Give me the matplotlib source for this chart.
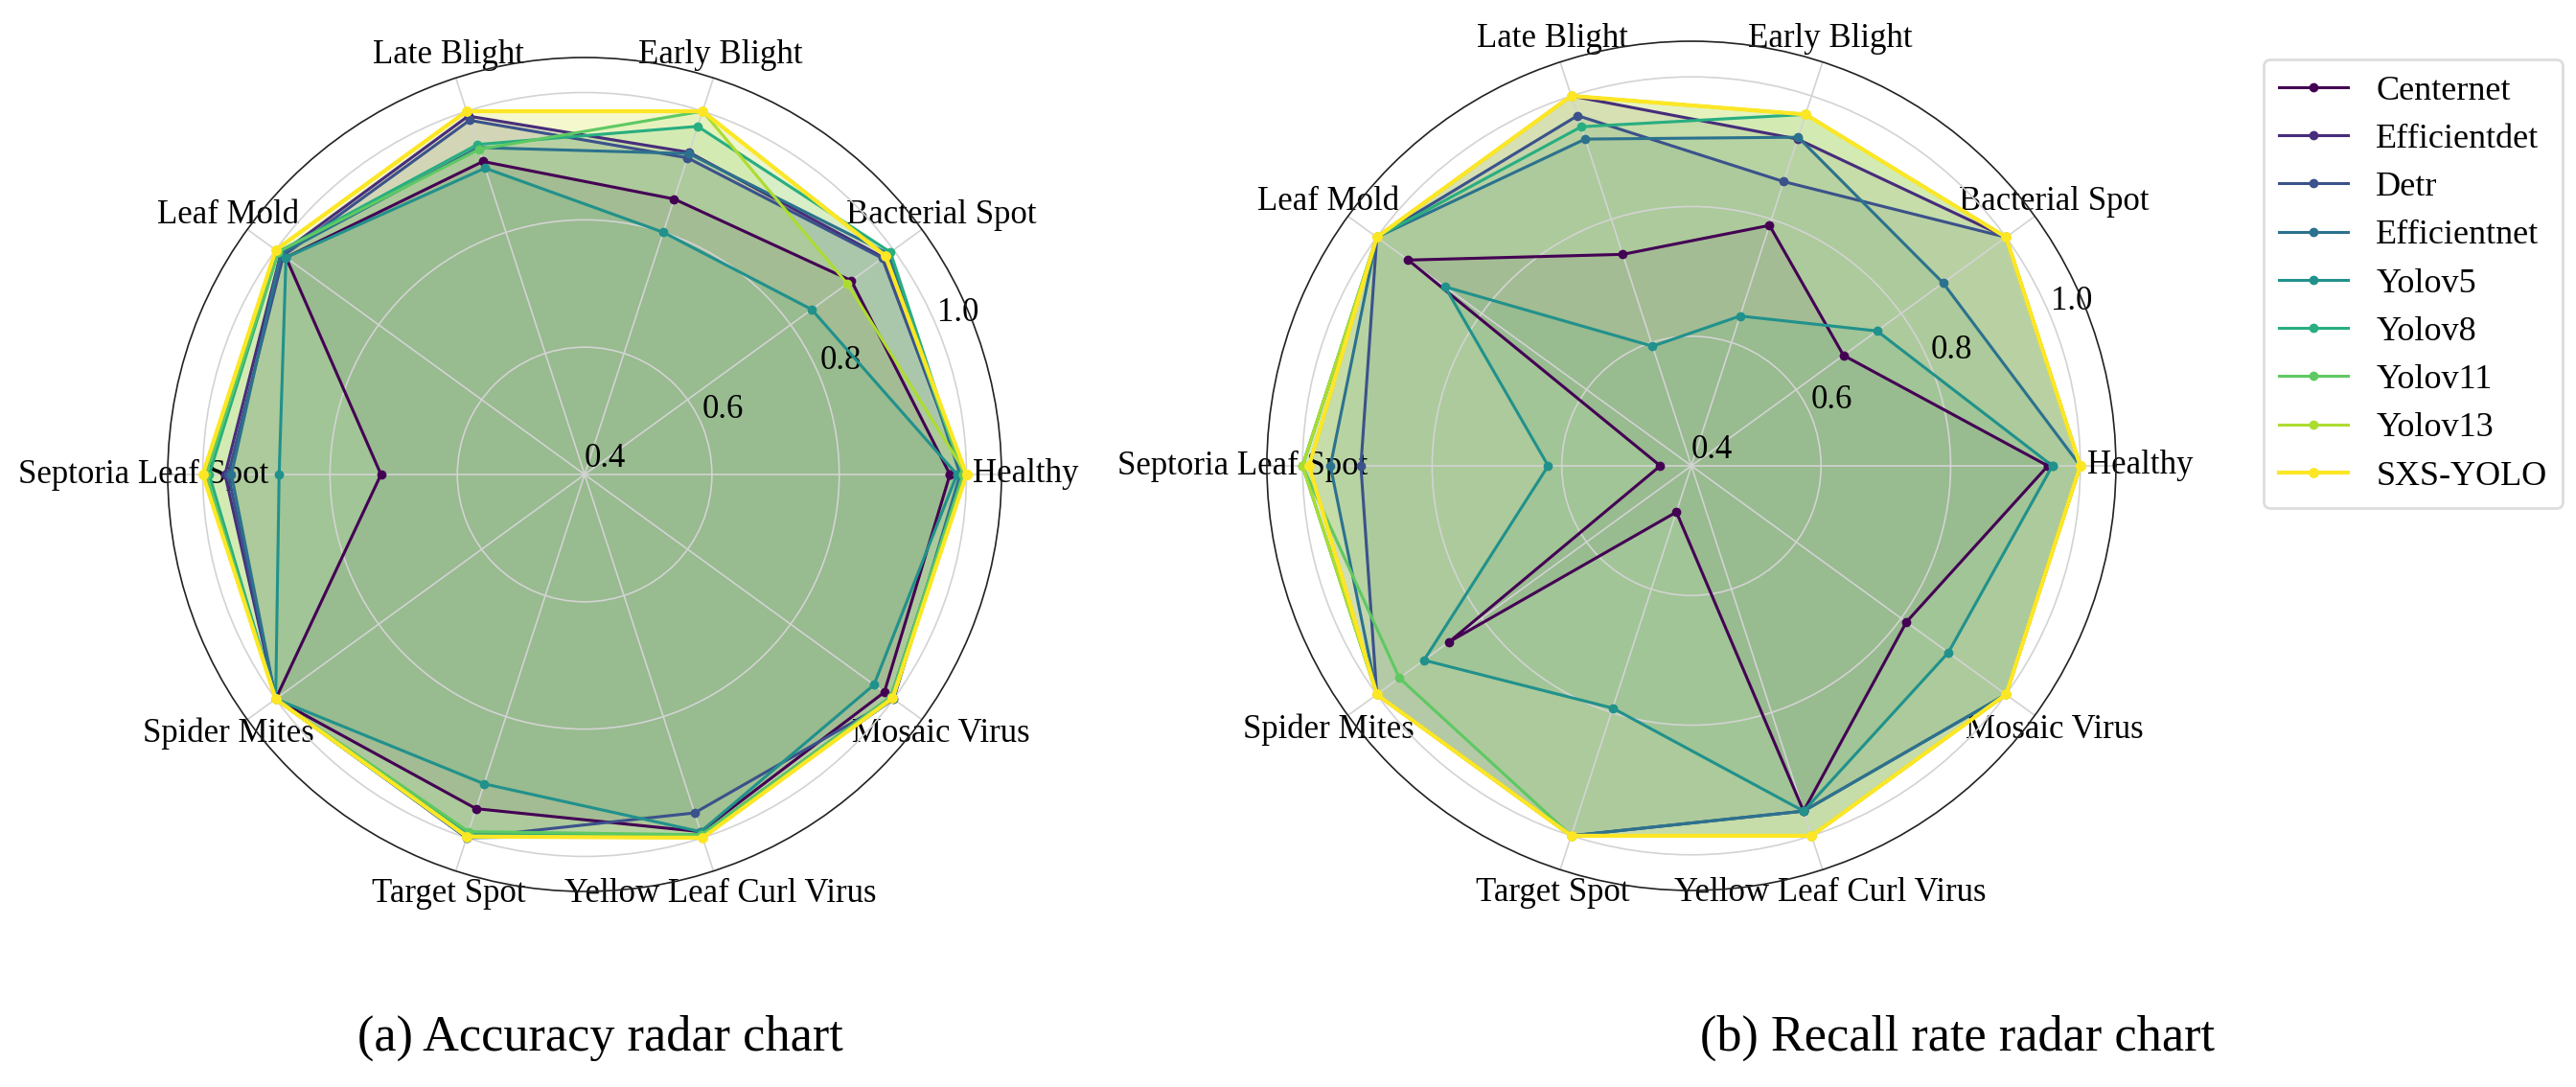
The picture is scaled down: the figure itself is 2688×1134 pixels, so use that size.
import numpy as np
import matplotlib
matplotlib.use('Agg')
import matplotlib.pyplot as plt

plt.rcParams['font.family'] = ['Liberation Serif', 'DejaVu Serif']

# ── 1. Data ───────────────────────────────────────────────────────────────────

categories = ['Healthy', 'Bacterial Spot', 'Early Blight', 'Late Blight', 'Leaf Mold',
              'Septoria Leaf Spot', 'Spider Mites', 'Target Spot',
              'Yellow Leaf Curl Virus', 'Mosaic Virus']

models = ['Centernet', 'Efficientdet', 'Detr', 'Efficientnet', 'Yolov5',
          'Yolov8', 'Yolov11', 'Yolov13', 'SXS-YOLO']

# accuracy per model (same order as categories)
acc_centernet    = [0.974, 0.918, 0.855, 0.917, 0.980, 0.720, 1.000, 0.952, 0.990, 0.982]
acc_efficientdet = [0.995, 0.980, 0.932, 0.992, 0.990, 0.965, 1.000, 0.995, 0.995, 0.995]
acc_detr         = [0.995, 0.978, 0.923, 0.985, 0.985, 0.960, 1.000, 1.000, 0.959, 1.000]
acc_efficientnet = [0.990, 0.990, 0.930, 0.940, 0.990, 0.955, 1.000, 1.000, 0.995, 1.000]
acc_yolov5       = [0.985, 0.841, 0.800, 0.906, 0.980, 0.880, 1.000, 0.911, 0.990, 0.962]
acc_yolov8       = [0.995, 0.994, 0.975, 0.945, 0.995, 0.990, 1.000, 0.995, 0.995, 0.995]
acc_yolov11      = [0.995, 0.985, 1.000, 0.937, 0.995, 0.995, 1.000, 0.990, 0.995, 0.995]
acc_yolov13      = [1.000, 0.910, 1.000, 1.000, 1.000, 1.000, 1.000, 0.998, 1.000, 0.998]
acc_sxs          = [1.000, 0.984, 1.000, 1.000, 1.000, 1.000, 1.000, 0.998, 1.000, 0.998]

# recall per model
rec_centernet    = [0.950, 0.690, 0.790, 0.743, 0.940, 0.448, 0.862, 0.475, 0.960, 0.810]
rec_efficientdet = [1.000, 1.000, 0.930, 1.000, 1.000, 0.990, 1.000, 1.000, 1.000, 1.000]
rec_detr         = [1.000, 1.000, 0.861, 0.968, 1.000, 0.910, 1.000, 1.000, 0.960, 1.000]
rec_efficientnet = [1.000, 0.880, 0.933, 0.930, 1.000, 0.957, 1.000, 1.000, 0.960, 1.000]
rec_yolov5       = [0.957, 0.754, 0.643, 0.594, 0.870, 0.621, 0.910, 0.793, 0.960, 0.890]
rec_yolov8       = [1.000, 1.000, 0.970, 0.950, 1.000, 1.000, 1.000, 1.000, 1.000, 1.000]
rec_yolov11      = [1.000, 1.000, 0.970, 1.000, 1.000, 1.000, 0.957, 1.000, 1.000, 1.000]
rec_yolov13      = [1.000, 1.000, 0.970, 1.000, 1.000, 1.000, 1.000, 1.000, 1.000, 1.000]
rec_sxs          = [1.000, 1.000, 0.970, 1.000, 1.000, 0.990, 1.000, 1.000, 1.000, 1.000]

accuracy = [acc_centernet, acc_efficientdet, acc_detr, acc_efficientnet, acc_yolov5,
            acc_yolov8, acc_yolov11, acc_yolov13, acc_sxs]
recall = [rec_centernet, rec_efficientdet, rec_detr, rec_efficientnet, rec_yolov5,
          rec_yolov8, rec_yolov11, rec_yolov13, rec_sxs]

r_ticks = [0.4, 0.6, 0.8, 1.0]

# ── 2. Plot ───────────────────────────────────────────────────────────────────

colors = plt.cm.viridis(np.linspace(0, 1, len(models)))
angles = np.linspace(0, 2 * np.pi, len(categories), endpoint=False)
angles_closed = np.concatenate([angles, angles[:1]])

fig = plt.figure(figsize=(13.44, 5.67), dpi=200)
ax1 = fig.add_axes([0.0651, 0.1799, 0.3237, 0.7672], projection='polar')
ax2 = fig.add_axes([0.4918, 0.1808, 0.3296, 0.7813], projection='polar')


def draw_radar(ax, data):
    for name, vals, c in zip(models, data, colors):
        v = np.concatenate([vals, vals[:1]])
        big = name == 'SXS-YOLO'
        ax.plot(angles_closed, v, color=c, linewidth=1.5 if big else 1.1,
                marker='o', markersize=2.9 if big else 2.5, label=name)
        ax.fill(angles_closed, v, color=c, alpha=0.12)
    ax.set_ylim(0.4, 1.055)
    ax.set_yticks(r_ticks)
    ax.set_yticklabels([f'{t:.1f}' for t in r_ticks], fontsize=12.5)
    ax.set_xticks(angles)
    ax.set_xticklabels(categories, fontsize=12.5)
    ax.tick_params(axis='x', pad=-1.5)
    ax.grid(True, color='#d3d3d3', linewidth=0.6)
    ax.spines['polar'].set_linewidth(0.6)
    ax.spines['polar'].set_color('#222222')


draw_radar(ax1, accuracy)
draw_radar(ax2, recall)

ax2.legend(loc='upper left', bbox_to_anchor=(0.8787, 0.9453),
           bbox_transform=fig.transFigure, borderaxespad=0, fontsize=13.0,
           labelspacing=0.47, borderpad=0.45, framealpha=1, edgecolor='#dddddd')

fig.text(0.233, 0.045, '(a) Accuracy radar chart', ha='center', va='center', fontsize=18.8)
fig.text(0.760, 0.045, '(b) Recall rate radar chart', ha='center', va='center', fontsize=18.8)

plt.savefig('out.png', dpi=200)
